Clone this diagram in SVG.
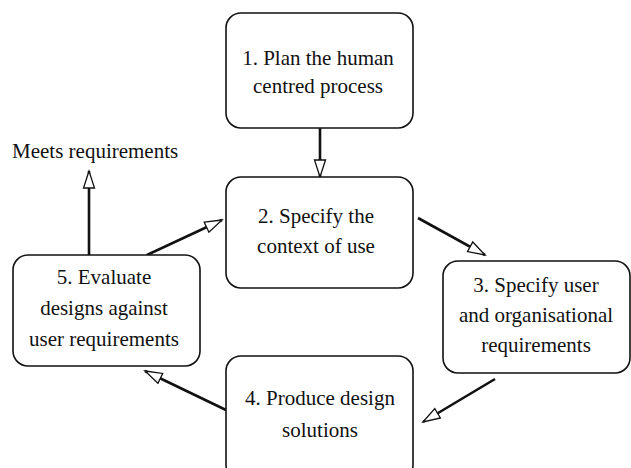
<svg xmlns="http://www.w3.org/2000/svg" width="631" height="468" viewBox="0 0 631 468">
<defs>
<style>
.box{fill:#fff;stroke:#111;stroke-width:1.6}
.t{font-family:"Liberation Serif","Times New Roman",serif;font-size:21px;fill:#111;text-anchor:middle}
.c{stroke:#111;stroke-width:2.6;fill:none}
</style>
<marker id="ah" markerUnits="userSpaceOnUse" markerWidth="22" markerHeight="16" refX="18" refY="7" orient="auto" viewBox="0 0 22 14">
<path d="M1,1.5 L18,7 L1,12.5 Z" fill="#fff" stroke="#111" stroke-width="1.3"/>
</marker>
</defs>
<rect width="631" height="468" fill="#fff"/>
<g id="connectors">
<line class="c" x1="320" y1="128" x2="320" y2="177" marker-end="url(#ah)"/>
<line class="c" x1="418" y1="218" x2="485" y2="255" marker-end="url(#ah)"/>
<line class="c" x1="495" y1="379" x2="423" y2="422" marker-end="url(#ah)"/>
<line class="c" x1="226" y1="410" x2="145" y2="371" marker-end="url(#ah)"/>
<line class="c" x1="147" y1="255" x2="222" y2="220" marker-end="url(#ah)"/>
<line class="c" x1="89" y1="255" x2="89" y2="171" marker-end="url(#ah)"/>
</g>
<g id="node1"><rect class="box" x="226" y="13" width="187" height="115" rx="15"/>
<text class="t" x="318" y="65">1. Plan the human</text><text class="t" x="318" y="93">centred  process</text></g>
<g id="node2"><rect class="box" x="226" y="177" width="187" height="111" rx="15"/>
<text class="t" x="316" y="223">2. Specify the</text><text class="t" x="316" y="253">context of use</text></g>
<g id="node3"><rect class="box" x="443" y="261" width="187" height="112" rx="15"/>
<text class="t" x="536" y="292">3. Specify user</text><text class="t" x="536" y="322">and organisational</text><text class="t" x="536" y="352">requirements</text></g>
<g id="node4"><rect class="box" x="226" y="356" width="187" height="124" rx="15"/>
<text class="t" x="320" y="405">4. Produce design</text><text class="t" x="320" y="437">solutions</text></g>
<g id="node5"><rect class="box" x="13" y="255" width="187" height="111" rx="15"/>
<text class="t" x="104" y="284">5. Evaluate</text><text class="t" x="104" y="315">designs against</text><text class="t" x="104" y="346">user requirements</text></g>
<g id="label"><text class="t" x="12" y="158" style="text-anchor:start">Meets requirements</text></g>
</svg>
